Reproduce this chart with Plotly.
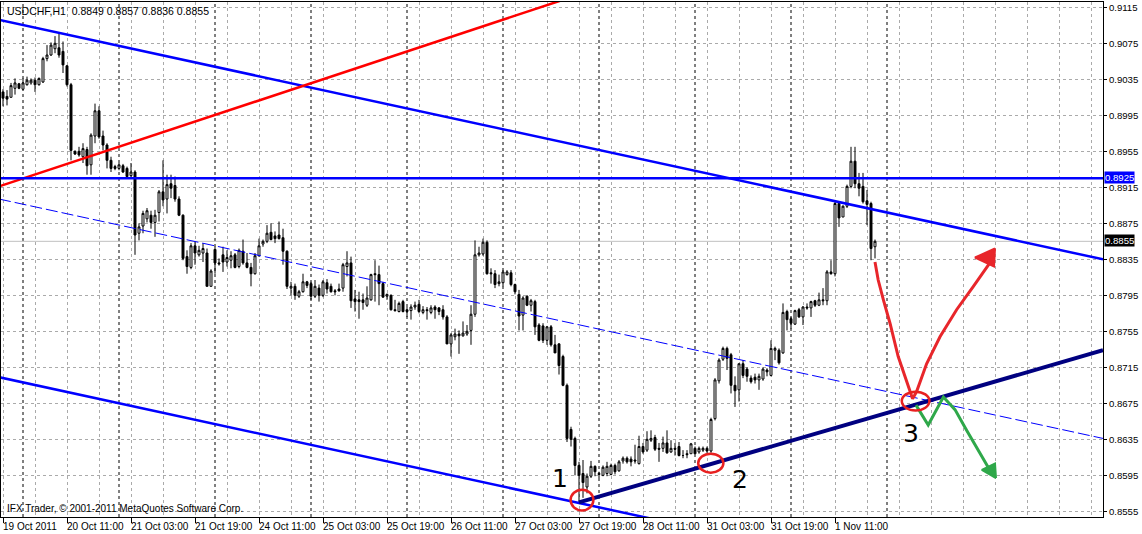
import plotly.graph_objects as go

# ---------------- data (USDCHF H1, bar index 0 = 19 Oct 2011 19:00) ----------------
bar_open = [
 0.9021,0.9016,0.9015,0.9025,0.9030,0.9024,0.9029,0.9031,0.9034,0.9029,
 0.9032,0.9058,0.9062,0.9069,0.9070,0.9066,0.9050,0.9029,0.8955,0.8955,
 0.8949,0.8957,0.8940,0.8972,0.9000,0.8972,0.8962,0.8945,0.8938,0.8936,
 0.8939,0.8936,0.8928,0.8932,0.8864,0.8872,0.8880,0.8884,0.8876,0.8887,
 0.8910,0.8902,0.8919,0.8917,0.8902,0.8884,0.8838,0.8826,0.8850,0.8840,
 0.8842,0.8842,0.8805,0.8846,0.8831,0.8840,0.8832,0.8834,0.8840,0.8827,
 0.8844,0.8831,0.8826,0.8819,0.8839,0.8852,0.8855,0.8865,0.8861,0.8862,
 0.8859,0.8844,0.8803,0.8805,0.8794,0.8799,0.8810,0.8808,0.8794,0.8803,
 0.8795,0.8809,0.8805,0.8800,0.8802,0.8803,0.8827,0.8831,0.8791,0.8790,
 0.8790,0.8784,0.8790,0.8819,0.8818,0.8808,0.8794,0.8795,0.8779,0.8777,
 0.8788,0.8779,0.8778,0.8782,0.8785,0.8776,0.8779,0.8776,0.8782,0.8781,
 0.8779,0.8771,0.8741,0.8749,0.8752,0.8750,0.8752,0.8756,0.8774,0.8840,
 0.8841,0.8854,0.8820,0.8819,0.8808,0.8809,0.8818,0.8820,0.8807,0.8796,
 0.8773,0.8794,0.8784,0.8788,0.8762,0.8761,0.8745,0.8760,0.8740,0.8741,
 0.8727,0.8695,0.8646,0.8636,0.8606,0.8597,0.8582,0.8594,0.8605,0.8597,
 0.8595,0.8597,0.8596,0.8606,0.8600,0.8611,0.8614,0.8613,0.8612,0.8608,
 0.8627,0.8623,0.8634,0.8637,0.8625,0.8625,0.8631,0.8621,0.8625,0.8627,
 0.8617,0.8619,0.8619,0.8625,0.8621,0.8623,0.8625,0.8622,0.8658,0.8700,
 0.8724,0.8736,0.8729,0.8695,0.8690,0.8719,0.8713,0.8703,0.8704,0.8701,
 0.8702,0.8712,0.8706,0.8734,0.8734,0.8731,0.8777,0.8769,0.8763,0.8779,
 0.8771,0.8782,0.8781,0.8789,0.8784,0.8790,0.8789,0.8821,0.8819,0.8897,
 0.8882,0.8894,0.8916,0.8944,0.8919,0.8916,0.8900,0.8897,0.8849]
bar_high = [
 0.9024,0.9023,0.9031,0.9036,0.9031,0.9036,0.9038,0.9036,0.9037,0.9037,
 0.9060,0.9073,0.9076,0.9083,0.9087,0.9077,0.9051,0.9031,0.8956,0.8960,
 0.8964,0.8960,0.8975,0.9008,0.9005,0.8978,0.8964,0.8949,0.8940,0.8942,
 0.8941,0.8938,0.8942,0.8934,0.8875,0.8889,0.8892,0.8889,0.8890,0.8912,
 0.8945,0.8929,0.8929,0.8927,0.8905,0.8885,0.8845,0.8853,0.8855,0.8850,
 0.8853,0.8847,0.8824,0.8849,0.8836,0.8849,0.8845,0.8844,0.8842,0.8847,
 0.8857,0.8842,0.8831,0.8842,0.8858,0.8857,0.8873,0.8875,0.8866,0.8877,
 0.8869,0.8845,0.8810,0.8808,0.8801,0.8819,0.8811,0.8810,0.8812,0.8807,
 0.8812,0.8813,0.8808,0.8802,0.8808,0.8831,0.8844,0.8838,0.8801,0.8799,
 0.8797,0.8805,0.8819,0.8834,0.8828,0.8810,0.8797,0.8796,0.8790,0.8788,
 0.8790,0.8782,0.8785,0.8788,0.8790,0.8783,0.8782,0.8784,0.8784,0.8782,
 0.8784,0.8773,0.8753,0.8758,0.8756,0.8766,0.8762,0.8784,0.8856,0.8849,
 0.8858,0.8856,0.8825,0.8823,0.8818,0.8823,0.8823,0.8823,0.8808,0.8801,
 0.8794,0.8795,0.8791,0.8790,0.8764,0.8764,0.8761,0.8762,0.8751,0.8742,
 0.8729,0.8697,0.8649,0.8638,0.8610,0.8612,0.8597,0.8611,0.8606,0.8599,
 0.8606,0.8610,0.8608,0.8608,0.8612,0.8616,0.8616,0.8616,0.8629,0.8639,
 0.8631,0.8644,0.8645,0.8640,0.8631,0.8638,0.8645,0.8634,0.8631,0.8632,
 0.8623,0.8623,0.8631,0.8627,0.8627,0.8627,0.8627,0.8659,0.8703,0.8725,
 0.8738,0.8738,0.8731,0.8705,0.8719,0.8723,0.8715,0.8706,0.8708,0.8708,
 0.8715,0.8714,0.8745,0.8738,0.8736,0.8786,0.8779,0.8771,0.8779,0.8781,
 0.8783,0.8786,0.8789,0.8790,0.8798,0.8803,0.8823,0.8834,0.8899,0.8899,
 0.8895,0.8918,0.8960,0.8960,0.8931,0.8931,0.8912,0.8899,0.8857]
bar_low = [
 0.9005,0.9006,0.9015,0.9018,0.9024,0.9023,0.9028,0.9029,0.9021,0.9028,
 0.9031,0.9055,0.9061,0.9064,0.9059,0.9042,0.9027,0.8945,0.8951,0.8949,
 0.8942,0.8929,0.8929,0.8964,0.8969,0.8956,0.8936,0.8932,0.8934,0.8934,
 0.8931,0.8925,0.8925,0.8840,0.8856,0.8864,0.8876,0.8869,0.8860,0.8877,
 0.8894,0.8886,0.8903,0.8899,0.8883,0.8834,0.8819,0.8824,0.8829,0.8838,
 0.8832,0.8805,0.8805,0.8819,0.8828,0.8821,0.8827,0.8825,0.8825,0.8825,
 0.8829,0.8825,0.8805,0.8818,0.8838,0.8849,0.8853,0.8856,0.8853,0.8857,
 0.8829,0.8802,0.8795,0.8790,0.8792,0.8798,0.8803,0.8790,0.8792,0.8788,
 0.8793,0.8797,0.8798,0.8795,0.8799,0.8799,0.8816,0.8781,0.8777,0.8769,
 0.8779,0.8782,0.8789,0.8788,0.8784,0.8792,0.8790,0.8778,0.8777,0.8776,
 0.8776,0.8771,0.8768,0.8779,0.8775,0.8774,0.8768,0.8774,0.8769,0.8773,
 0.8768,0.8741,0.8727,0.8745,0.8730,0.8749,0.8750,0.8740,0.8771,0.8838,
 0.8839,0.8818,0.8808,0.8803,0.8805,0.8805,0.8817,0.8805,0.8796,0.8756,
 0.8756,0.8783,0.8777,0.8751,0.8744,0.8742,0.8740,0.8738,0.8731,0.8707,
 0.8694,0.8632,0.8627,0.8595,0.8564,0.8570,0.8575,0.8592,0.8594,0.8592,
 0.8594,0.8594,0.8595,0.8596,0.8599,0.8608,0.8608,0.8605,0.8608,0.8607,
 0.8619,0.8621,0.8632,0.8622,0.8610,0.8621,0.8619,0.8620,0.8617,0.8616,
 0.8614,0.8614,0.8619,0.8619,0.8619,0.8621,0.8620,0.8620,0.8656,0.8697,
 0.8722,0.8712,0.8686,0.8671,0.8677,0.8703,0.8699,0.8697,0.8697,0.8690,
 0.8700,0.8705,0.8705,0.8723,0.8718,0.8730,0.8756,0.8758,0.8762,0.8770,
 0.8762,0.8779,0.8771,0.8782,0.8783,0.8784,0.8784,0.8818,0.8816,0.8871,
 0.8882,0.8892,0.8914,0.8914,0.8905,0.8897,0.8873,0.8834,0.8836]
bar_close = [
 0.9014,0.9013,0.9028,0.9031,0.9025,0.9031,0.9034,0.9034,0.9029,0.9036,
 0.9058,0.9062,0.9073,0.9075,0.9062,0.9051,0.9029,0.8956,0.8952,0.8951,
 0.8958,0.8939,0.8973,0.9000,0.8971,0.8962,0.8945,0.8936,0.8936,0.8940,
 0.8932,0.8927,0.8932,0.8862,0.8871,0.8886,0.8889,0.8876,0.8884,0.8910,
 0.8901,0.8918,0.8914,0.8902,0.8884,0.8836,0.8827,0.8850,0.8842,0.8845,
 0.8847,0.8805,0.8822,0.8831,0.8830,0.8832,0.8837,0.8839,0.8826,0.8845,
 0.8831,0.8826,0.8819,0.8839,0.8850,0.8855,0.8864,0.8857,0.8858,0.8858,
 0.8844,0.8805,0.8805,0.8795,0.8799,0.8810,0.8806,0.8794,0.8805,0.8795,
 0.8810,0.8802,0.8799,0.8799,0.8800,0.8829,0.8831,0.8789,0.8788,0.8788,
 0.8787,0.8792,0.8818,0.8818,0.8808,0.8793,0.8796,0.8779,0.8778,0.8786,
 0.8777,0.8777,0.8782,0.8784,0.8777,0.8779,0.8778,0.8781,0.8779,0.8777,
 0.8771,0.8741,0.8751,0.8752,0.8750,0.8753,0.8755,0.8774,0.8840,0.8842,
 0.8854,0.8819,0.8819,0.8807,0.8810,0.8821,0.8821,0.8807,0.8799,0.8772,
 0.8792,0.8784,0.8789,0.8760,0.8745,0.8745,0.8760,0.8740,0.8731,0.8717,
 0.8695,0.8636,0.8635,0.8606,0.8595,0.8587,0.8594,0.8605,0.8599,0.8596,
 0.8604,0.8605,0.8606,0.8599,0.8610,0.8614,0.8610,0.8610,0.8611,0.8627,
 0.8621,0.8635,0.8636,0.8624,0.8624,0.8631,0.8620,0.8625,0.8624,0.8617,
 0.8617,0.8618,0.8630,0.8619,0.8625,0.8625,0.8622,0.8657,0.8701,0.8723,
 0.8736,0.8725,0.8695,0.8689,0.8719,0.8706,0.8705,0.8699,0.8701,0.8705,
 0.8713,0.8710,0.8736,0.8736,0.8720,0.8776,0.8768,0.8764,0.8778,0.8771,
 0.8782,0.8781,0.8788,0.8784,0.8790,0.8789,0.8821,0.8819,0.8897,0.8881,
 0.8894,0.8916,0.8944,0.8919,0.8914,0.8899,0.8896,0.8847,0.8855]

# time axis: bar index of each label, and the label text
label_bars = [0, 16, 32, 48, 64, 80, 96, 112, 128, 144, 160, 176, 192, 208]
label_texts = ["19 Oct 2011", "20 Oct 11:00", "21 Oct 03:00", "21 Oct 19:00",
               "24 Oct 11:00", "25 Oct 03:00", "25 Oct 19:00", "26 Oct 11:00",
               "27 Oct 03:00", "27 Oct 19:00", "28 Oct 11:00", "31 Oct 03:00",
               "31 Oct 19:00", "1 Nov 11:00"]
day_start_bars = [5, 29, 53, 77, 101, 125, 149, 173, 197, 221]
price_ticks = [0.8555, 0.8595, 0.8635, 0.8675, 0.8715, 0.8755, 0.8795, 0.8835,
               0.8875, 0.8915, 0.8955, 0.8995, 0.9035, 0.9075, 0.9115]

# drawn objects (bar index, price)
upper_channel_x = [-1, 275]; upper_channel_y = [0.9101, 0.8835]
middle_channel_x = [-1, 275]; middle_channel_y = [0.8902, 0.8636]
lower_channel_x = [-1, 275]; lower_channel_y = [0.8704, 0.8438]
red_trend_x = [-1, 150]; red_trend_y = [0.8916, 0.9138]
support_x = [144, 275]; support_y = [0.8565, 0.8734]
level_price = 0.8925
bid_price = 0.8855
title_text = "USDCHF,H1\u00a0 0.8849 0.8857 0.8836 0.8855"
copyright_text = "IFX Trader, \u00a9 2001-2011 MetaQuotes Software Corp."

circle_x0 = [141.9, 173.8, 224.7]; circle_x1 = [147.6, 180.1, 231.6]
circle_y0 = [0.8556, 0.8598, 0.8667]; circle_y1 = [0.8579, 0.8619, 0.8688]
point_labels = ["1", "2", "3"]
point_label_x = [139.3, 184.3, 226.9]
point_label_y = [0.8592, 0.8590, 0.8642]

red_path_x = [218.0, 218.8, 220.1, 221.75, 223.8, 225.9, 227.4, 228.4, 230.9, 234.25, 238.4, 242.6, 247.2]
red_path_y = [0.8832, 0.8812, 0.8790, 0.8764, 0.8727, 0.8701, 0.8680, 0.8688, 0.8719, 0.8749, 0.8779, 0.8805, 0.8834]
red_head_x = [248.0, 243.0, 247.75, 248.0]
red_head_y = [0.8847, 0.8837, 0.8827, 0.8847]
green_path_x = [228.25, 231.3, 235.1, 238.0, 240.9, 244.25, 247.2]
green_path_y = [0.8673, 0.8651, 0.8682, 0.8668, 0.8645, 0.8619, 0.8597]
green_head_x = [248.25, 244.7, 248.0, 248.25]
green_head_y = [0.8592, 0.8601, 0.8608, 0.8592]

# ---------------- figure ----------------
FONT = "Liberation Sans, Arial, sans-serif"
fig = go.Figure()

fig.add_trace(go.Candlestick(
    x=list(range(len(bar_open))), open=bar_open, high=bar_high, low=bar_low, close=bar_close,
    increasing=dict(line=dict(color="black", width=1), fillcolor="white"),
    decreasing=dict(line=dict(color="black", width=1), fillcolor="black"),
    whiskerwidth=0, hoverinfo="skip", showlegend=False))

def line(xs, ys, color, width, dash=None):
    fig.add_trace(go.Scatter(x=xs, y=ys, mode="lines",
                             line=dict(color=color, width=width, dash=dash),
                             hoverinfo="skip", showlegend=False))

line(middle_channel_x, middle_channel_y, "#0000FF", 1, "12px,4px")
line(upper_channel_x, upper_channel_y, "#0000FF", 2.5)
line(lower_channel_x, lower_channel_y, "#0000FF", 2.5)
line(red_trend_x, red_trend_y, "#FF0000", 2.5)
line([-1, 275], [level_price, level_price], "#0000FF", 2.5)
line(support_x, support_y, "#000080", 4)
line(red_path_x, red_path_y, "#E8262B", 3)
line(green_path_x, green_path_y, "#2FA84A", 3)
for hx, hy, col in [(red_head_x, red_head_y, "#E8262B"), (green_head_x, green_head_y, "#2FA84A")]:
    fig.add_trace(go.Scatter(x=hx, y=hy, mode="lines", fill="toself", fillcolor=col,
                             line=dict(color=col, width=2), hoverinfo="skip", showlegend=False))

shapes = []
for d in day_start_bars:
    shapes.append(dict(type="line", xref="x", yref="paper", x0=d, x1=d, y0=0, y1=1,
                       line=dict(color="black", width=1, dash="3px,3px"), layer="between"))
shapes.append(dict(type="line", xref="paper", yref="y", x0=0, x1=1, y0=bid_price, y1=bid_price,
                   line=dict(color="#C0C0C0", width=1), layer="between"))
for a, b, c, e in zip(circle_x0, circle_x1, circle_y0, circle_y1):
    shapes.append(dict(type="circle", xref="x", yref="y", x0=a, x1=b, y0=c, y1=e,
                       line=dict(color="#E82020", width=2.5), layer="above"))

annotations = []
for pos, txt in zip(label_bars, label_texts):
    annotations.append(dict(x=pos, xref="x", y=0, yref="paper", text=txt, showarrow=False,
                            xanchor="left", yanchor="top", xshift=-2, yshift=-2,
                            font=dict(family=FONT, size=10, color="black")))
for txt, px, py in zip(point_labels, point_label_x, point_label_y):
    annotations.append(dict(x=px, y=py, xref="x", yref="y", text=txt, showarrow=False,
                            font=dict(family="DejaVu Sans", size=25, color="black")))
annotations.append(dict(x=0, y=1, xref="paper", yref="paper", text=title_text, showarrow=False,
                        xanchor="left", yanchor="top", xshift=4, yshift=-1,
                        font=dict(family=FONT, size=10.5, color="black")))
annotations.append(dict(x=0, y=0, xref="paper", yref="paper", text=copyright_text, showarrow=False,
                        xanchor="left", yanchor="bottom", xshift=4, yshift=1,
                        font=dict(family=FONT, size=10, color="black")))
for price, bg in [(level_price, "#0000FF"), (bid_price, "#000000")]:
    annotations.append(dict(x=1, xref="paper", y=price, yref="y", text=f"{price:.4f}",
                            showarrow=False, xanchor="left", yanchor="middle", xshift=1,
                            yshift=1, bgcolor=bg, borderpad=0,
                            font=dict(family=FONT, size=9.6, color="white")))

grid = "#AAAAAA"
fig.update_layout(
    width=1142, height=534,
    margin=dict(l=1, r=39, t=2, b=17, autoexpand=False),
    paper_bgcolor="white", plot_bgcolor="white",
    shapes=shapes, annotations=annotations,
    xaxis=dict(range=[-0.5, 275], rangeslider=dict(visible=False),
               tickvals=label_bars, showticklabels=False, ticks="outside", ticklen=5,
               tickcolor="black", showgrid=False, zeroline=False,
               showline=True, linecolor="black", linewidth=1, mirror=True,
               minor=dict(dtick=8, tick0=0, showgrid=True, gridcolor=grid,
                          griddash="3px,3px", gridwidth=1)),
    yaxis=dict(range=[0.85487, 0.91209], side="right", tickvals=price_ticks,
               tickformat=".4f", ticks="outside", ticklen=3, tickcolor="black",
               ticklabelstandoff=0,
               tickfont=dict(family=FONT, size=9.6, color="black"),
               showgrid=True, gridcolor=grid, griddash="3px,3px", gridwidth=1,
               zeroline=False, showline=True, linecolor="black", linewidth=1, mirror=True),
)

fig.write_html("out.html", config={"displayModeBar": False, "staticPlot": True},
               post_script="document.body.style.margin='0';")
